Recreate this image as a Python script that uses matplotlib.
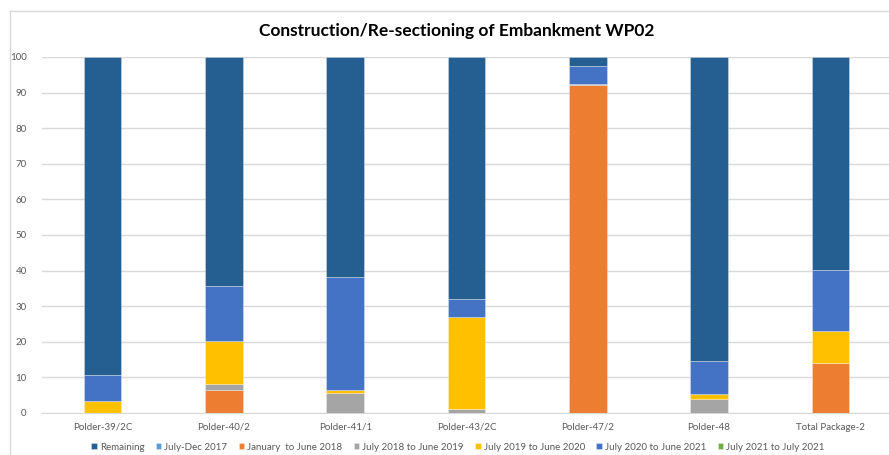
import matplotlib.pyplot as plt
import numpy as np

# Categories and series (percent)
polders = ["Polder-39/2C", "Polder-40/2", "Polder-41/1", "Polder-43/2C",
           "Polder-47/2", "Polder-48", "Total Package-2"]

jul_dec_2017 = [0, 0, 0, 0, 0, 0, 0]
jan_jun_2018 = [0, 6.4, 0, 0, 92.1, 0, 14.0]
jul18_jun19 = [0, 1.7, 5.5, 1.0, 0.4, 4.0, 0]
jul19_jun20 = [3.3, 12.1, 0.9, 25.9, 0, 1.2, 9.0]
jul20_jun21 = [7.5, 15.4, 31.9, 5.2, 4.9, 9.4, 17.2]
jul21_jul21 = [0, 0, 0, 0, 0, 0, 0]
remaining = [89.2, 64.5, 61.7, 67.9, 2.6, 85.4, 59.8]

plt.rcParams['font.family'] = ['Lato', 'DejaVu Sans']

fig = plt.figure(figsize=(8.89, 4.55), dpi=100)
ax = fig.add_axes([42 / 889, 1 - 413 / 455, 849 / 889, 356 / 455])

x = np.arange(len(polders))
width = 0.31
bottom = np.zeros(len(polders))

# stacked from bottom, Remaining on top
stack = [
    ("July-Dec 2017", jul_dec_2017, "#5B9BD5"),
    ("January  to June 2018", jan_jun_2018, "#ED7D31"),
    ("July 2018 to June 2019", jul18_jun19, "#A5A5A5"),
    ("July 2019 to June 2020", jul19_jun20, "#FFC000"),
    ("July 2020 to June 2021", jul20_jun21, "#4472C4"),
    ("July 2021 to July 2021", jul21_jul21, "#70AD47"),
    ("Remaining", remaining, "#255E91"),
]
handles = {}
for name, vals, col in stack:
    vals = np.array(vals, dtype=float)
    b = ax.bar(x, vals, width, bottom=bottom, color=col, label=name,
               edgecolor=(1, 1, 1, 0.35), linewidth=0.6, zorder=3)
    handles[name] = b
    bottom += vals

ax.set_xlim(-0.5, len(polders) - 0.5)
ax.set_ylim(0, 100)
ax.set_yticks(range(0, 101, 10))
ax.set_xticks(x)
ax.set_xticklabels(polders)
ax.yaxis.grid(True, color="#D9D9D9", linewidth=1, zorder=0)
for s in ["top", "right", "left"]:
    ax.spines[s].set_visible(False)
ax.spines["bottom"].set_color("#D9D9D9")
ax.tick_params(axis="both", length=0, labelsize=7, colors="#595959")
ax.tick_params(axis="y", pad=11)
ax.tick_params(axis="x", pad=7)

fig.text(457 / 889, 1 - 31 / 455, "Construction/Re-sectioning of Embankment WP02",
         ha="center", va="center", fontsize=12.5, fontweight="bold", color="black")

order = ["Remaining", "July-Dec 2017", "January  to June 2018", "July 2018 to June 2019",
         "July 2019 to June 2020", "July 2020 to June 2021", "July 2021 to July 2021"]
leg = fig.legend([handles[n] for n in order], order, loc="center",
                 bbox_to_anchor=(458 / 889, 1 - 447 / 455), ncol=7, frameon=False,
                 fontsize=7, handlelength=0.6, handleheight=0.6, handletextpad=0.3,
                 columnspacing=1.15)
for t in leg.get_texts():
    t.set_color("#595959")

# chart border (cropped at right and bottom)
fig.add_artist(plt.Line2D([10 / 889, 1], [1 - 11 / 455] * 2, color="#D9D9D9", lw=1))
fig.add_artist(plt.Line2D([10 / 889] * 2, [0, 1 - 11 / 455], color="#D9D9D9", lw=1))

fig.savefig("out.png", dpi=100)
